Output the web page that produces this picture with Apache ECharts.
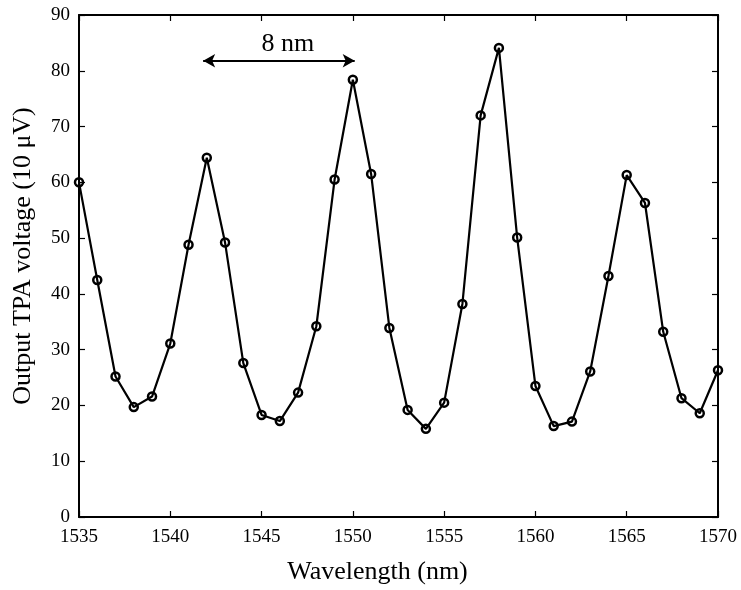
<!DOCTYPE html>
<html>
<head>
<meta charset="utf-8">
<script src="https://cdn.jsdelivr.net/npm/echarts@6/dist/echarts.min.js"></script>
<style>html,body{margin:0;padding:0;background:#fff;}#c{width:741px;height:590px;}</style>
</head>
<body>
<div id="c"></div>
<script>
const wavelengths = [1535,1536,1537,1538,1539,1540,1541,1542,1543,1544,1545,1546,1547,1548,1549,1550,1551,1552,1553,1554,1555,1556,1557,1558,1559,1560,1561,1562,1563,1564,1565,1566,1567,1568,1569,1570];
const voltages = [60.0,42.5,25.2,19.7,21.6,31.1,48.8,64.4,49.2,27.6,18.3,17.2,22.3,34.2,60.5,78.4,61.5,33.9,19.2,15.8,20.5,38.2,72.0,84.1,50.1,23.5,16.3,17.1,26.1,43.2,61.3,56.3,33.2,21.3,18.6,26.3];
const xTicks = {min: 1535, max: 1570, step: 5};
const yTicks = {min: 0, max: 90, step: 10};
const arrowStart = [1541.8, 81.8];
const arrowEnd = [1550.1, 81.8];
const arrowLabel = '8 nm';
const xTitle = 'Wavelength (nm)';
const yTitle = 'Output TPA voltage (10 μV)';

const FONT = 'Liberation Serif';
const chart = echarts.init(document.getElementById('c'), null, {renderer: 'canvas'});
const axisLine = {show: true, onZero: false, lineStyle: {color: '#000', width: 2}};
const axisTick = {show: true, inside: true, length: 6, lineStyle: {color: '#000', width: 1.2}};
chart.setOption({
  animation: false,
  backgroundColor: '#fff',
  grid: {left: 79, right: 23, top: 15, bottom: 71, containLabel: false},
  xAxis: [{
    type: 'value', position: 'bottom', min: xTicks.min, max: xTicks.max, interval: xTicks.step,
    axisLine, axisTick, splitLine: {show: false},
    axisLabel: {color: '#000', fontFamily: FONT, fontSize: 19, margin: 11, formatter: v => String(v)},
    name: xTitle, nameLocation: 'middle', nameGap: 42,
    nameTextStyle: {color: '#000', fontFamily: FONT, fontSize: 26, padding: [0, 42, 0, 0]}
  }, {
    type: 'value', position: 'top', min: xTicks.min, max: xTicks.max, interval: xTicks.step,
    axisLine, axisTick, splitLine: {show: false}, axisLabel: {show: false}
  }],
  yAxis: [{
    type: 'value', position: 'left', min: yTicks.min, max: yTicks.max, interval: yTicks.step,
    axisLine, axisTick, splitLine: {show: false},
    axisLabel: {color: '#000', fontFamily: FONT, fontSize: 19, margin: 9, formatter: v => String(v)},
    name: yTitle, nameLocation: 'middle', nameGap: 43, nameRotate: 90,
    nameTextStyle: {color: '#000', fontFamily: FONT, fontSize: 26, padding: [0, 0, 0, 20]}
  }, {
    type: 'value', position: 'right', min: yTicks.min, max: yTicks.max, interval: yTicks.step,
    axisLine, axisTick, splitLine: {show: false}, axisLabel: {show: false}
  }],
  series: [{
    type: 'line',
    xAxisIndex: 0, yAxisIndex: 0,
    data: wavelengths.map((w, i) => [w, voltages[i]]),
    clip: false,
    symbol: 'circle', symbolSize: 8,
    lineStyle: {color: '#000', width: 2.2},
    itemStyle: {color: 'rgba(0,0,0,0)', borderColor: '#000', borderWidth: 2.5},
    markLine: {
      silent: true,
      symbol: ['arrow', 'arrow'],
      symbolSize: [10, 12],
      lineStyle: {color: '#000', width: 2, type: 'solid'},
      itemStyle: {color: '#000'},
      label: {show: true, position: 'middle', formatter: arrowLabel, color: '#000', fontFamily: FONT, fontSize: 26, distance: 4, padding: [0, 0, 0, 18]},
      data: [[{coord: arrowStart}, {coord: arrowEnd}]]
    }
  }]
});
</script>
</body>
</html>
